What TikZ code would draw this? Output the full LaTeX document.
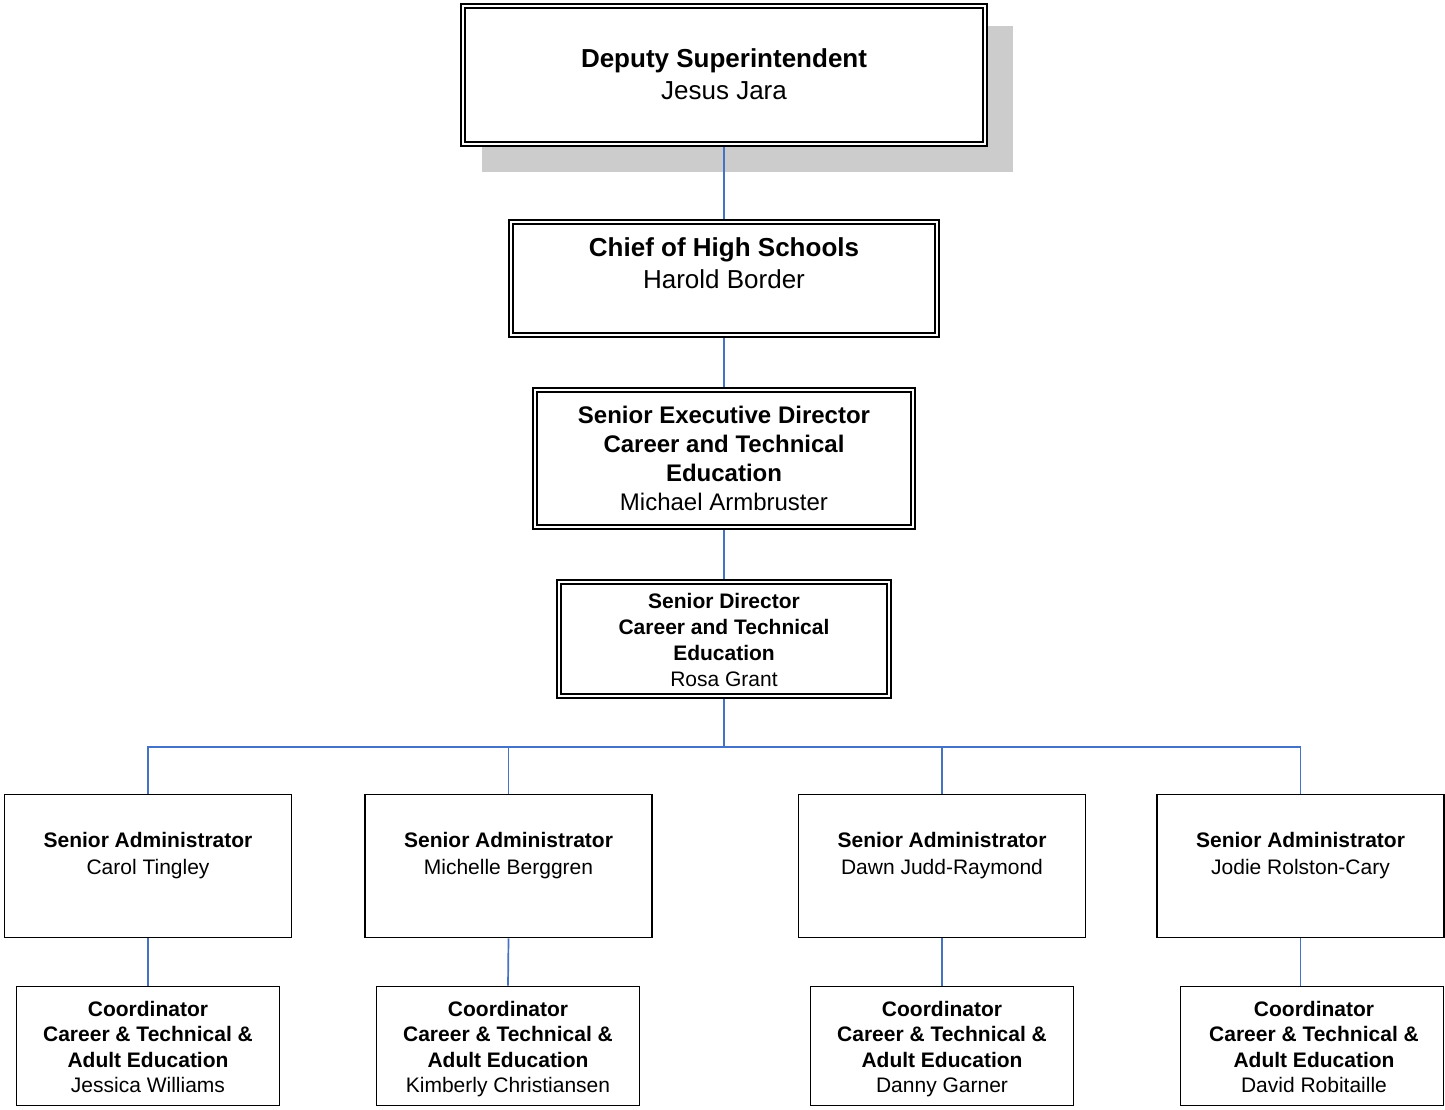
\documentclass[tikz,border=0pt]{standalone}
\usepackage{fontspec}
\setmainfont{Liberation Sans}
\usetikzlibrary{backgrounds}
\definecolor{connc}{RGB}{68,114,196}
\definecolor{shadowgray}{RGB}{204,204,204}
\begin{document}
\begin{tikzpicture}[x=1pt,y=-1pt,
  dbox/.style={draw, double, double distance=2.2pt, line width=1.7pt, inner sep=0pt, fill=white},
  sbox/.style={draw, line width=1.7pt, inner sep=0pt, fill=white},
  conn/.style={draw=connc, line width=1.7pt},
  lbl/.style={align=center, inner sep=0pt},
  fA/.style={font=\fontsize{26}{32}\selectfont},
  fB/.style={font=\fontsize{24}{29}\selectfont},
  fC/.style={font=\fontsize{21}{25.7}\selectfont},
  fD/.style={font=\fontsize{21}{27}\selectfont},
  fE/.style={font=\fontsize{21}{25.4}\selectfont},
  abox/.style={sbox, minimum width=287pt, minimum height=143pt},
  cbox/.style={sbox, minimum width=263pt, minimum height=119pt},
]
\useasboundingbox (0,0) rectangle (1445,1109);

% boxes
\node[dbox, minimum width=522.4pt, minimum height=138.4pt] (top) at (724,75) {};
\node[dbox, minimum width=426.4pt, minimum height=113.4pt] (chief) at (724,278.5) {};
\node[dbox, minimum width=378.4pt, minimum height=137.4pt] (sexec) at (724,458.5) {};
\node[dbox, minimum width=330.4pt, minimum height=114.4pt] (sdir) at (724,639) {};

\node[abox] (a1) at (148,866) {};
\node[abox] (a2) at (508.5,866) {};
\node[abox] (a3) at (942,866) {};
\node[abox] (a4) at (1300.5,866) {};

\node[cbox] (c1) at (148,1046) {};
\node[cbox] (c2) at (508,1046) {};
\node[cbox] (c3) at (942,1046) {};
\node[cbox] (c4) at (1312,1046) {};

% texts
\node[lbl, fA] (t0) at (724,74) {\textbf{Deputy Superintendent}\\Jesus Jara};
\node[lbl, fA] (t1) at (724,263) {\textbf{Chief of High Schools}\\Harold Border};
\node[lbl, fB] (t2) at (724,458) {\textbf{Senior Executive Director}\\\textbf{Career and Technical}\\\textbf{Education}\\Michael Armbruster};
\node[lbl, fC] (t3) at (724,640) {\textbf{Senior Director}\\\textbf{Career and Technical}\\\textbf{Education}\\Rosa Grant};

\node[lbl, fD] (ta1) at (148,856) {\textbf{Senior Administrator}\\Carol Tingley};
\node[lbl, fD] (ta2) at (508.5,856) {\textbf{Senior Administrator}\\Michelle Berggren};
\node[lbl, fD] (ta3) at (942,856) {\textbf{Senior Administrator}\\Dawn Judd-Raymond};
\node[lbl, fD] (ta4) at (1300.5,856) {\textbf{Senior Administrator}\\Jodie Rolston-Cary};

\node[lbl, fE] (tc1) at (148,1050.8) {\textbf{Coordinator}\\\textbf{Career \& Technical \&}\\\textbf{Adult Education}\\Jessica Williams\strut};
\node[lbl, fE] (tc2) at (508,1050.8) {\textbf{Coordinator}\\\textbf{Career \& Technical \&}\\\textbf{Adult Education}\\Kimberly Christiansen\strut};
\node[lbl, fE] (tc3) at (942,1050.8) {\textbf{Coordinator}\\\textbf{Career \& Technical \&}\\\textbf{Adult Education}\\Danny Garner\strut};
\node[lbl, fE] (tc4) at (1314,1050.8) {\textbf{Coordinator}\\\textbf{Career \& Technical \&}\\\textbf{Adult Education}\\David Robitaille\strut};

\coordinate (bus) at (724,747);

\begin{pgfonlayer}{background}
  \fill[shadowgray] ([shift={(20.3,21.3)}]top.north west) rectangle ([shift={(27.3,27.3)}]top.south east);
  \draw[conn] (top.south) -- (chief.north);
  \draw[conn] (chief.south) -- (sexec.north);
  \draw[conn] (sexec.south) -- (sdir.north);
  \draw[conn] (sdir.south) -- (bus);
  \draw[conn] (bus) -| (a1.north);
  \draw[conn] (bus) -| (a2.north);
  \draw[conn] (bus) -| (a3.north);
  \draw[conn] (bus) -| (a4.north);
  \draw[conn] (a1.south) -- (c1.north);
  \draw[conn] (a2.south) -- (c2.north);
  \draw[conn] (a3.south) -- (c3.north);
  \draw[conn] (a4.south) -- (a4.south |- c4.north);
\end{pgfonlayer}
\end{tikzpicture}
\end{document}
